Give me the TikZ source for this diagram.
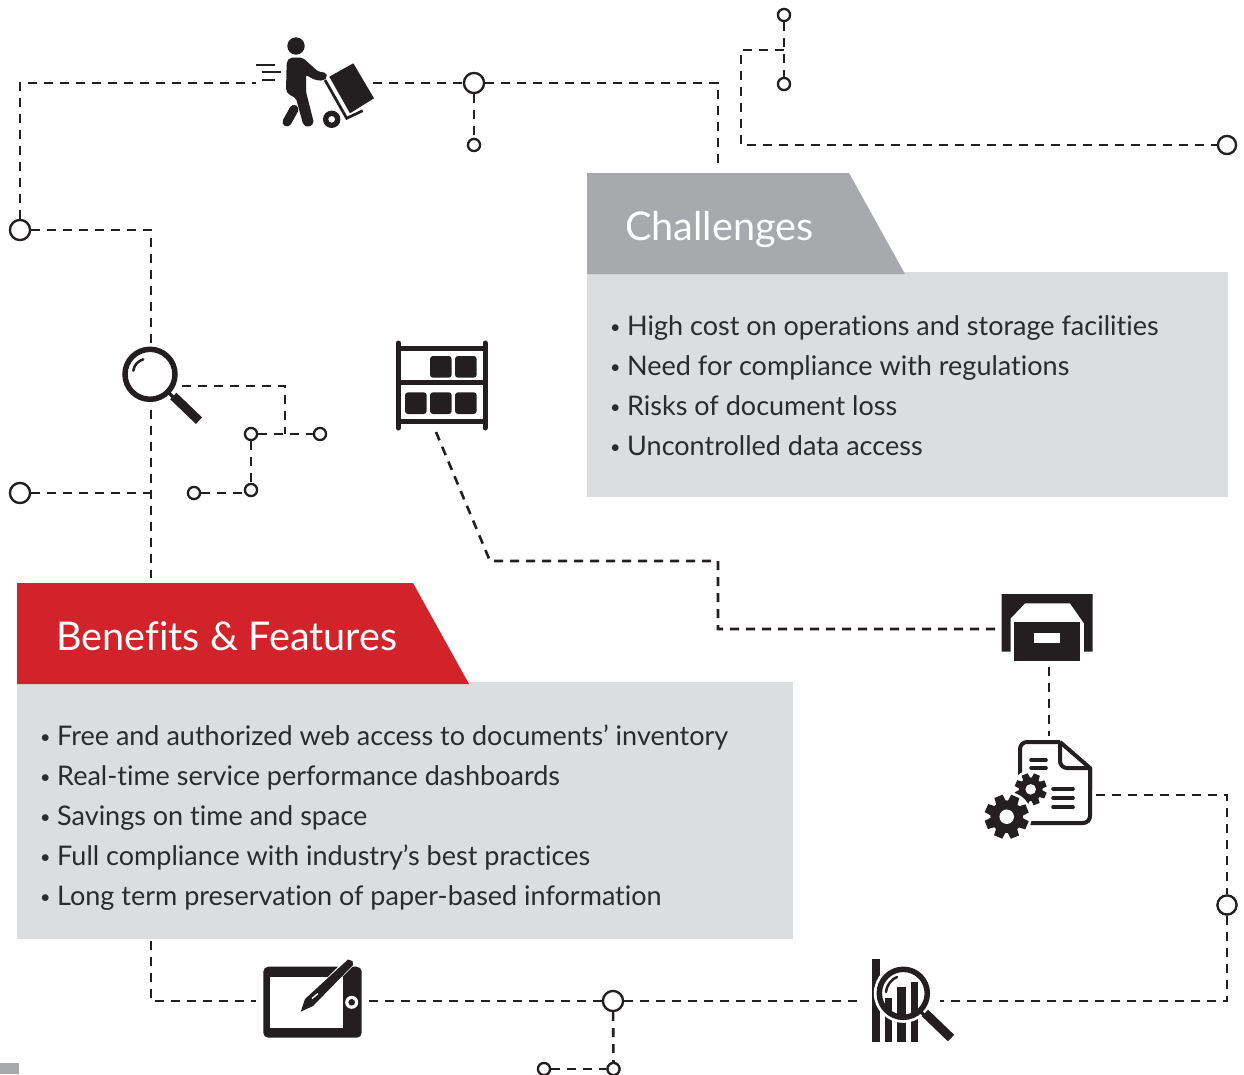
\documentclass[tikz,border=0pt]{standalone}
\usepackage{fontspec}
\setmainfont[Ligatures=NoCommon]{Lato}
\definecolor{ink}{HTML}{231F20}
\definecolor{headgray}{HTML}{A7A9AC}
\definecolor{panelgray}{HTML}{DCDDDE}
\definecolor{headred}{HTML}{D2232A}
\definecolor{bodytext}{HTML}{2B2B2D}
\tikzset{
  conn/.style={draw=ink,line width=2.6pt,dash pattern=on 9pt off 7pt},
  bigring/.style={circle,draw=ink,fill=white,line width=2.2pt,minimum size=20pt,inner sep=0pt},
  smallring/.style={circle,draw=ink,fill=white,line width=2.2pt,minimum size=12pt,inner sep=0pt},
  headtext/.style={anchor=base west,text=white,inner sep=0pt,font=\fontsize{39.6}{40}\selectfont},
  bullettext/.style={anchor=base west,text=bodytext,inner sep=0pt,font=\fontsize{27}{27}\selectfont},
  shelfbox/.style={fill=ink,rounded corners=3pt},
}
\newcommand{\bul}{\makebox[17pt][l]{\raisebox{1.5pt}{\fontsize{18}{18}\selectfont•}}}
\newcommand{\gearicon}[3]{%
  \fill[white] (#1,#2) circle ({#3+3});
  \foreach \a in {0,45,...,315}{
    \fill[ink,rotate around={\a+22:(#1,#2)}] (#1-0.30*#3,#2) -- (#1-0.20*#3,#2-#3) -- (#1+0.20*#3,#2-#3) -- (#1+0.30*#3,#2) -- cycle;
  }
  \fill[ink] (#1,#2) circle ({0.74*#3});
  \fill[white] (#1,#2) circle ({0.33*#3});
}
\begin{document}
\begin{tikzpicture}[x=1pt,y=-1pt]
\path[use as bounding box] (0,0) rectangle (1244,1074);
\clip (0,0) rectangle (1244,1074);
\fill[white] (0,0) rectangle (1244,1074);

% anchor points of icons and panels
\coordinate (walkL) at (256,83);
\coordinate (walkR) at (373,83);
\coordinate (lensT) at (151,345);
\coordinate (lensB) at (151,410);
\coordinate (lensR) at (182,386);
\coordinate (shelfB) at (436,432);
\coordinate (boxL) at (996,629);
\coordinate (boxB) at (1049,667);
\coordinate (docT) at (1049,736);
\coordinate (docR) at (1096,795);
\coordinate (tabL) at (256,1001);
\coordinate (tabR) at (369,1001);
\coordinate (chartL) at (858,1001);
\coordinate (chartR) at (940,1001);
\coordinate (chalT) at (718,168);
\coordinate (benT) at (151,578);
\coordinate (benB) at (151,941);
\coordinate (kneeA) at (490,561);
\coordinate (kneeB) at (718,629);
\coordinate (junA) at (784,50);
\coordinate (junB) at (285,434);
\coordinate (junC) at (151,493);

% rings
\node[bigring] (r1) at (20,230) {};
\node[bigring] (r2) at (474,83) {};
\node[bigring] (r3) at (20,493) {};
\node[bigring] (r4) at (613,1001) {};
\node[bigring,minimum size=19pt] (r5) at (1227,905) {};
\node[bigring,minimum size=18pt] (r6) at (1227,145) {};
\node[smallring] (s1) at (474,145) {};
\node[smallring] (s2) at (784,15) {};
\node[smallring] (s3) at (784,84) {};
\node[smallring] (s4) at (251,434) {};
\node[smallring] (s5) at (320,434) {};
\node[smallring] (s6) at (251,490) {};
\node[smallring] (s7) at (194,493) {};
\node[smallring] (s8) at (613.5,1069) {};
\node[smallring] (s9) at (544,1069) {};

% connectors
\draw[conn] (r1) |- (walkL);
\draw[conn] (r1) -| (lensT);
\draw[conn] (walkR) -- (r2);
\draw[conn] (r2) -| (chalT);
\draw[conn] (r2) -- (s1);
\draw[conn] (s2) -- (s3);
\draw[conn] (junA) -| (741,145) -- (r6);
\draw[conn] (lensR) -| (junB);
\draw[conn] (s4) -- (s5);
\draw[conn] (s4) -- (s6);
\draw[conn] (s7) -- (s6 |- s7);
\draw[conn] (r3) -- (junC);
\draw[conn] (lensB) -- (benT);
\draw[conn] (shelfB) -- (kneeA) -| (kneeB) -- (boxL);
\draw[conn] (boxB) -- (docT);
\draw[conn] (docR) -| (r5);
\draw[conn] (r5) |- (chartR);
\draw[conn] (benB) |- (tabL);
\draw[conn] (tabR) -- (r4);
\draw[conn] (r4) -- (chartL);
\draw[conn] (r4) -- (s8);
\draw[conn] (s9) -- (s8);

% redraw rings above their connectors
\foreach \p/\s in {20/230,474/83,20/493,613/1001}{\node[bigring] at (\p,\s) {};}
\node[bigring,minimum size=19pt] at (1227,905) {};
\node[bigring,minimum size=18pt] at (1227,145) {};
\foreach \p/\s in {474/145,784/15,784/84,251/434,320/434,251/490,194/493,613.5/1069,544/1069}{\node[smallring] at (\p,\s) {};}

% small page-corner square
\fill[headgray] (0,1063) rectangle (19,1074);

% Challenges panel
\fill[panelgray] (587,272) rectangle (1228,497);
\fill[headgray] (587,173) -- (849,173) -- (905,274) -- (587,274) -- cycle;
\node[headtext] (chalH) at (625,240) {Challenges};
\node[bullettext] (c1) at (610,335) {\bul High cost on operations and storage facilities};
\node[bullettext] (c2) at (610,375) {\bul Need for compliance with regulations};
\node[bullettext] (c3) at (610,415) {\bul Risks of document loss};
\node[bullettext] (c4) at (610,455) {\bul Uncontrolled data access};

% Benefits panel
\fill[panelgray] (17,682) rectangle (793,939);
\fill[headred] (17,583) -- (413,583) -- (469,684) -- (17,684) -- cycle;
\node[headtext] (benH) at (56,650) {Benefits \& Features};
\node[bullettext] (b1) at (40,745) {\bul Free and authorized web access to documents’ inventory};
\node[bullettext] (b2) at (40,785) {\bul Real-time service performance dashboards};
\node[bullettext] (b3) at (40,825) {\bul Savings on time and space};
\node[bullettext] (b4) at (40,865) {\bul Full compliance with industry’s best practices};
\node[bullettext] (b5) at (40,905) {\bul Long term preservation of paper-based information};

% walker icon
\fill[ink] (296,46) circle (8.7);
\fill[ink,rounded corners=2pt] (286.7,61.7) -- (290,57.7) -- (302.7,57.7) -- (318.3,71.7) -- (326,72.7) -- (327.3,77.3) -- (323.3,80.7) -- (315,80) -- (306,75) -- (306,91.7) -- (314,123.3) -- (308.3,127.3) -- (303.3,125) -- (296,98.3) -- (288.3,94) -- (286,90.7) -- cycle;
\draw[ink,line width=9pt,line cap=round] (294,109.3) -- (287,122);
\draw[ink,line width=2.7pt] (325,80) -- (346.7,118.3) -- (362.7,110.7);
\fill[ink] (329.3,76.7) -- (353.3,63.3) -- (374,98.3) -- (350,113.3) -- cycle;
\fill[ink] (331.7,119.3) circle (8.7);
\fill[white] (331.7,119.3) circle (3.3);
\draw[ink,line width=2.2pt] (255.7,64.7) -- (275,64.7) (261.7,72.3) -- (281,72.3) (262.3,80) -- (275,80);

% magnifier icon
\draw[ink,line width=5.5pt] (150,374.3) circle (25);
\draw[ink,line width=2.5pt,line cap=round] (133.3,370.7) .. controls (134,365) and (138,361) .. (143.3,359.3);
\draw[ink,line width=3.5pt] (168,392) -- (174,398);
\draw[ink,line width=9pt] (173.3,396) -- (199,420.7);

% shelf icon
\draw[ink,line width=5pt,line cap=round] (398.3,343) -- (398.3,428) (485,343) -- (485,428);
\draw[ink,line width=5pt] (398,348.3) -- (485,348.3) (398,382.3) -- (485,382.3) (398,421) -- (485,421);
\foreach \xx/\yy in {430/356,455/356,405/392.3,430/392.3,455/392.3}{
  \fill[shelfbox] (\xx,\yy) rectangle ++(21.7,21.7);
}

% archive box icon
\fill[ink] (1001.7,594) -- (1092.5,594) -- (1092.5,651.7) -- (1084,651.7) -- (1084,623.3) -- (1070,603.3) -- (1025,603.3) -- (1010.7,618.3) -- (1010.7,651.7) -- (1001.7,651.7) -- cycle;
\fill[ink] (1014.3,621.7) rectangle (1080,660.7);
\fill[white] (1034.3,633.3) rectangle (1060,643.3);

% document with gears
\draw[ink,line width=4pt,rounded corners=7pt] (1030,823) -- (1090,823) -- (1090,768);
\draw[ink,line width=4pt,line join=round,rounded corners=7pt] (1020,790) -- (1020,742) -- (1060,742);
\draw[ink,line width=4pt,line join=round] (1060,742) -- (1090,768) -- (1090,790);
\draw[ink,line width=4pt,rounded corners=7pt] (1060,742) -- (1060,768) -- (1090,768);
\draw[ink,line width=3.6pt,line cap=round] (1031,760) -- (1046,760) (1031,768) -- (1046,768);
\draw[ink,line width=3.6pt,line cap=round] (1053,789) -- (1073,789) (1053,798) -- (1073,798) (1053,807) -- (1073,807);
\gearicon{1030.7}{789.3}{16}
\gearicon{1006.7}{816.7}{22}

% tablet icon
\fill[ink,rounded corners=5pt] (263.3,966.7) rectangle (361.7,1037.7);
\fill[white] (270,976.7) rectangle (343.3,1028.3);
\fill[white] (351.7,1002.3) circle (6.5);
\fill[ink] (351.7,1002.3) circle (3.3);
\draw[white,line width=10pt] (306,1006) -- (350,962);
\fill[ink] (300.7,1011.7) -- (305,999) -- (348,959.5) -- (352.5,961) -- (353,965) -- (313,1006) -- cycle;
\draw[white,line width=1.5pt] (312,998.5) -- (318,993.5);

% chart lens icon
\fill[ink] (872.3,959) rectangle (880,1041.7);
\fill[ink] (885,998.3) rectangle (892.3,1041.7);
\fill[ink] (897.3,987.3) rectangle (905.7,1041.7);
\fill[ink] (910.7,981.7) rectangle (918.3,1041.7);
\draw[white,line width=3pt] (903.3,993.3) circle (28);
\draw[ink,line width=5.5pt] (903.3,993.3) circle (24);
\draw[ink,line width=2.5pt,line cap=round] (886,992) .. controls (887,984) and (892,979) .. (897,977);
\draw[ink,line width=3.5pt] (919,1010) -- (926,1017);
\draw[ink,line width=9pt] (925,1013) -- (951,1038);
\end{tikzpicture}
\end{document}
